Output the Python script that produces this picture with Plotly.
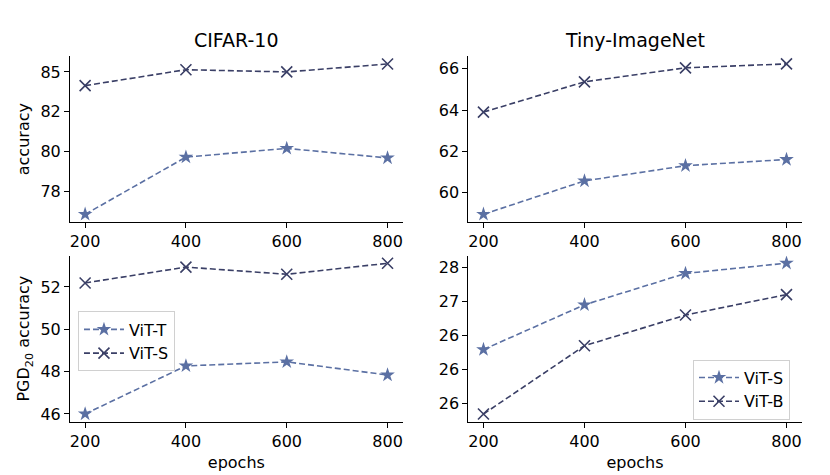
import plotly.graph_objects as go

epochs = [200, 400, 600, 800]

# CIFAR-10
cifar_clean_vit_t = [76.06, 79.65, 80.2, 79.6]
cifar_clean_vit_s = [84.14, 85.14, 85.0, 85.5]
cifar_pgd_vit_t = [46.0, 48.27, 48.46, 47.84]
cifar_pgd_vit_s = [52.19, 52.94, 52.6, 53.12]

# Tiny-ImageNet
tiny_clean_vit_s = [58.94, 60.56, 61.3, 61.6]
tiny_clean_vit_b = [63.9, 65.37, 66.05, 66.24]
tiny_pgd_vit_s = [25.59, 26.9, 27.82, 28.12]
tiny_pgd_vit_b = [23.7, 25.7, 26.6, 27.2]

# tick labels as printed in the source figure
cifar_clean_ticks = [77.5, 80, 82.5, 85]
cifar_clean_labels = ["78", "80", "82", "85"]
tiny_clean_ticks = [60, 62, 64, 66]
cifar_pgd_ticks = [46, 48, 50, 52]
tiny_pgd_ticks = [24, 25, 26, 27, 28]
tiny_pgd_labels = ["26", "26", "26", "27", "28"]

LIGHT = "#5b70a3"
DARK = "#3a3f66"
FONT = "DejaVu Sans"

fig = go.Figure()


def add_pair(xa, ya, y_light, y_dark, name_light, name_dark, legend, show):
    fig.add_trace(go.Scatter(
        x=epochs, y=y_light, name=name_light, mode="lines+markers",
        xaxis=xa, yaxis=ya, legend=legend, showlegend=show,
        line=dict(color=LIGHT, width=1.6, dash="6px,3px"),
        marker=dict(symbol="star", size=11, color=LIGHT, line=dict(width=0)),
    ))
    fig.add_trace(go.Scatter(
        x=epochs, y=y_dark, name=name_dark, mode="lines+markers",
        xaxis=xa, yaxis=ya, legend=legend, showlegend=show,
        line=dict(color=DARK, width=1.6, dash="6px,3px"),
        marker=dict(symbol="x-thin-open", size=11, color=DARK,
                    line=dict(width=1.6, color=DARK)),
    ))


add_pair("x", "y", cifar_clean_vit_t, cifar_clean_vit_s, "ViT-T", "ViT-S", "legend", False)
add_pair("x2", "y2", tiny_clean_vit_s, tiny_clean_vit_b, "ViT-S", "ViT-B", "legend2", False)
add_pair("x3", "y3", cifar_pgd_vit_t, cifar_pgd_vit_s, "ViT-T", "ViT-S", "legend", True)
add_pair("x4", "y4", tiny_pgd_vit_s, tiny_pgd_vit_b, "ViT-S", "ViT-B", "legend2", True)

axis_style = dict(
    showline=True, linecolor="black", linewidth=1, ticks="outside",
    ticklen=5, tickwidth=1, tickcolor="black", showgrid=False, zeroline=False,
    tickfont=dict(family=FONT, size=16, color="black"),
)

# page has an 8px body margin, so domains are offset accordingly
left_dom = [0.0747, 0.4755]
right_dom = [0.5546, 0.9562]
top_dom = [0.548, 0.8975]
bot_dom = [0.1257, 0.4764]
xrange_ = [170, 830]
label_font = dict(family=FONT, size=16, color="black")
legend_font = dict(family=FONT, size=16, color="black")

fig.update_layout(
    width=830, height=475,
    margin=dict(l=0, r=0, t=0, b=0),
    paper_bgcolor="white", plot_bgcolor="white",
    xaxis=dict(domain=left_dom, anchor="y", range=xrange_, tickvals=epochs, **axis_style),
    yaxis=dict(domain=top_dom, anchor="x", range=[75.59, 85.97],
               tickvals=cifar_clean_ticks, ticktext=cifar_clean_labels,
               title=dict(text="accuracy", font=label_font, standoff=6), **axis_style),
    xaxis2=dict(domain=right_dom, anchor="y2", range=xrange_, tickvals=epochs, **axis_style),
    yaxis2=dict(domain=top_dom, anchor="x2", range=[58.575, 66.6],
                tickvals=tiny_clean_ticks, **axis_style),
    xaxis3=dict(domain=left_dom, anchor="y3", range=xrange_, tickvals=epochs,
                title=dict(text="epochs", font=label_font, standoff=7), **axis_style),
    yaxis3=dict(domain=bot_dom, anchor="x3", range=[45.64, 53.48],
                tickvals=cifar_pgd_ticks,
                title=dict(text="PGD<sub>20</sub> accuracy", font=label_font, standoff=6),
                **axis_style),
    xaxis4=dict(domain=right_dom, anchor="y4", range=xrange_, tickvals=epochs,
                title=dict(text="epochs", font=label_font, standoff=7), **axis_style),
    yaxis4=dict(domain=bot_dom, anchor="x4", range=[23.48, 28.34],
                tickvals=tiny_pgd_ticks, ticktext=tiny_pgd_labels, **axis_style),
    legend=dict(x=0.0843, y=0.3585, xanchor="left", yanchor="top",
                bgcolor="white", bordercolor="#d0d0d0", borderwidth=1,
                font=legend_font, itemwidth=40, tracegroupgap=0),
    legend2=dict(x=0.8253, y=0.2568, xanchor="left", yanchor="top",
                 bgcolor="white", bordercolor="#d0d0d0", borderwidth=1,
                 font=legend_font, itemwidth=40, tracegroupgap=0),
    annotations=[
        dict(text="CIFAR-10", x=sum(left_dom) / 2, y=0.933, xref="paper", yref="paper",
             showarrow=False, xanchor="center", yanchor="middle",
             font=dict(family=FONT, size=19, color="black")),
        dict(text="Tiny-ImageNet", x=sum(right_dom) / 2, y=0.933, xref="paper", yref="paper",
             showarrow=False, xanchor="center", yanchor="middle",
             font=dict(family=FONT, size=19, color="black")),
    ],
)

fig.write_html("out.html")
